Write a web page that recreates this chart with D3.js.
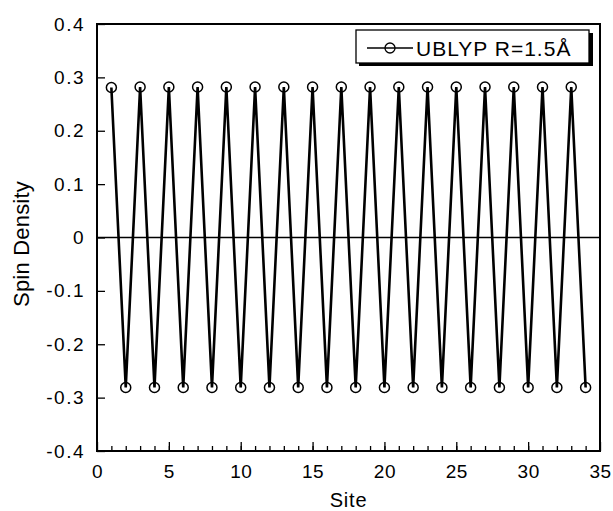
<!DOCTYPE html>
<html>
<head>
<meta charset="utf-8">
<script src="https://cdn.jsdelivr.net/npm/d3@7"></script>
<style>
  body { margin: 0; background: #fff; }
  text { font-family: "Liberation Sans", Arial, sans-serif; fill: #000; }
</style>
</head>
<body>
<script>
// Site numbers and spin density values
const sites = d3.range(1, 35);
const spin = [
  0.281, -0.281, 0.282, -0.281, 0.282, -0.281, 0.282, -0.281, 0.282, -0.281,
  0.282, -0.281, 0.282, -0.281, 0.282, -0.281, 0.282, -0.281, 0.282, -0.281,
  0.282, -0.281, 0.282, -0.281, 0.282, -0.281, 0.282, -0.281, 0.282, -0.281,
  0.282, -0.281, 0.282, -0.281
];
const xTicks = [0, 5, 10, 15, 20, 25, 30, 35];
const yTicks = [-0.4, -0.3, -0.2, -0.1, 0, 0.1, 0.2, 0.3, 0.4];
const seriesName = "UBLYP R=1.5Å";

const W = 613, H = 511;
const margin = {top: 24, right: 13, bottom: 60, left: 97};

const svg = d3.select("body").append("svg")
    .attr("width", W)
    .attr("height", H);

const x = d3.scaleLinear().domain([0, 35]).range([margin.left, W - margin.right]);
const y = d3.scaleLinear().domain([-0.4, 0.4]).range([H - margin.bottom, margin.top]);

// plain hyphen for negatives, like the original
const fmt = d => d === 0 ? "0" : d3.format(".1f")(d).replace("\u2212", "-");

const styleText = ls => g => g.selectAll("text")
  .attr("font-size", 19)
  .attr("letter-spacing", ls)
  .attr("font-family", "Liberation Sans, Arial, sans-serif");

// bottom axis: minor tick every site, longer at multiples of 5
svg.append("g")
  .attr("transform", `translate(0,${y(-0.4)})`)
  .call(d3.axisBottom(x).tickValues(d3.range(1, 35)).tickSize(-5).tickFormat(""))
  .call(g => g.select(".domain").remove())
  .call(g => g.selectAll("line").attr("stroke-width", 1.3));

svg.append("g")
  .attr("transform", `translate(0,${y(-0.4)})`)
  .call(d3.axisBottom(x).tickValues(xTicks).tickSize(-9).tickPadding(14).tickFormat(d3.format("d")))
  .call(g => g.select(".domain").remove())
  .call(g => g.selectAll("line").attr("stroke-width", 1.3))
  .call(styleText(0.5));

// left axis
svg.append("g")
  .attr("transform", `translate(${x(0)},0)`)
  .call(d3.axisLeft(y).tickValues(yTicks).tickSize(-8).tickPadding(12).tickFormat(fmt))
  .call(g => g.select(".domain").remove())
  .call(g => g.selectAll("line").attr("stroke-width", 1.3))
  .call(styleText(1.5));

// frame
svg.append("rect")
  .attr("x", x(0)).attr("y", y(0.4))
  .attr("width", x(35) - x(0)).attr("height", y(-0.4) - y(0.4))
  .attr("fill", "none").attr("stroke", "#000").attr("stroke-width", 2);

// zero line
svg.append("line")
  .attr("x1", x(0)).attr("x2", x(35))
  .attr("y1", y(0)).attr("y2", y(0))
  .attr("stroke", "#000").attr("stroke-width", 1.3);

// the series
const pts = sites.map((s, i) => [s, spin[i]]);
svg.append("path")
  .datum(pts)
  .attr("fill", "none")
  .attr("stroke", "#000")
  .attr("stroke-width", 2.6)
  .attr("d", d3.line().x(d => x(d[0])).y(d => y(d[1])));

svg.selectAll("circle.pt")
  .data(pts)
  .enter().append("circle")
  .attr("class", "pt")
  .attr("cx", d => x(d[0]))
  .attr("cy", d => y(d[1]))
  .attr("r", 5)
  .attr("fill", "none")
  .attr("stroke", "#000")
  .attr("stroke-width", 1.5);

// legend with shadow
const lg = svg.append("g");
lg.append("rect").attr("x", 359).attr("y", 33).attr("width", 234).attr("height", 33).attr("fill", "#000");
lg.append("rect").attr("x", 356).attr("y", 30).attr("width", 233).attr("height", 33)
  .attr("fill", "#fff").attr("stroke", "#000").attr("stroke-width", 1.3);
lg.append("line").attr("x1", 367).attr("x2", 413).attr("y1", 48).attr("y2", 48)
  .attr("stroke", "#000").attr("stroke-width", 1.5);
lg.append("circle").attr("cx", 390).attr("cy", 48).attr("r", 5)
  .attr("fill", "none").attr("stroke", "#000").attr("stroke-width", 1.3);
lg.append("text").attr("x", 416).attr("y", 56).attr("font-size", 21)
  .attr("letter-spacing", 1).text(seriesName);

// axis titles
svg.append("text")
  .attr("x", x(17.5)).attr("y", 507)
  .attr("text-anchor", "middle").attr("font-size", 20).attr("letter-spacing", 0.8)
  .text("Site");

svg.append("text")
  .attr("transform", `translate(29,244) rotate(-90)`)
  .attr("text-anchor", "middle").attr("font-size", 22).attr("letter-spacing", 0.2)
  .text("Spin Density");
</script>
</body>
</html>
